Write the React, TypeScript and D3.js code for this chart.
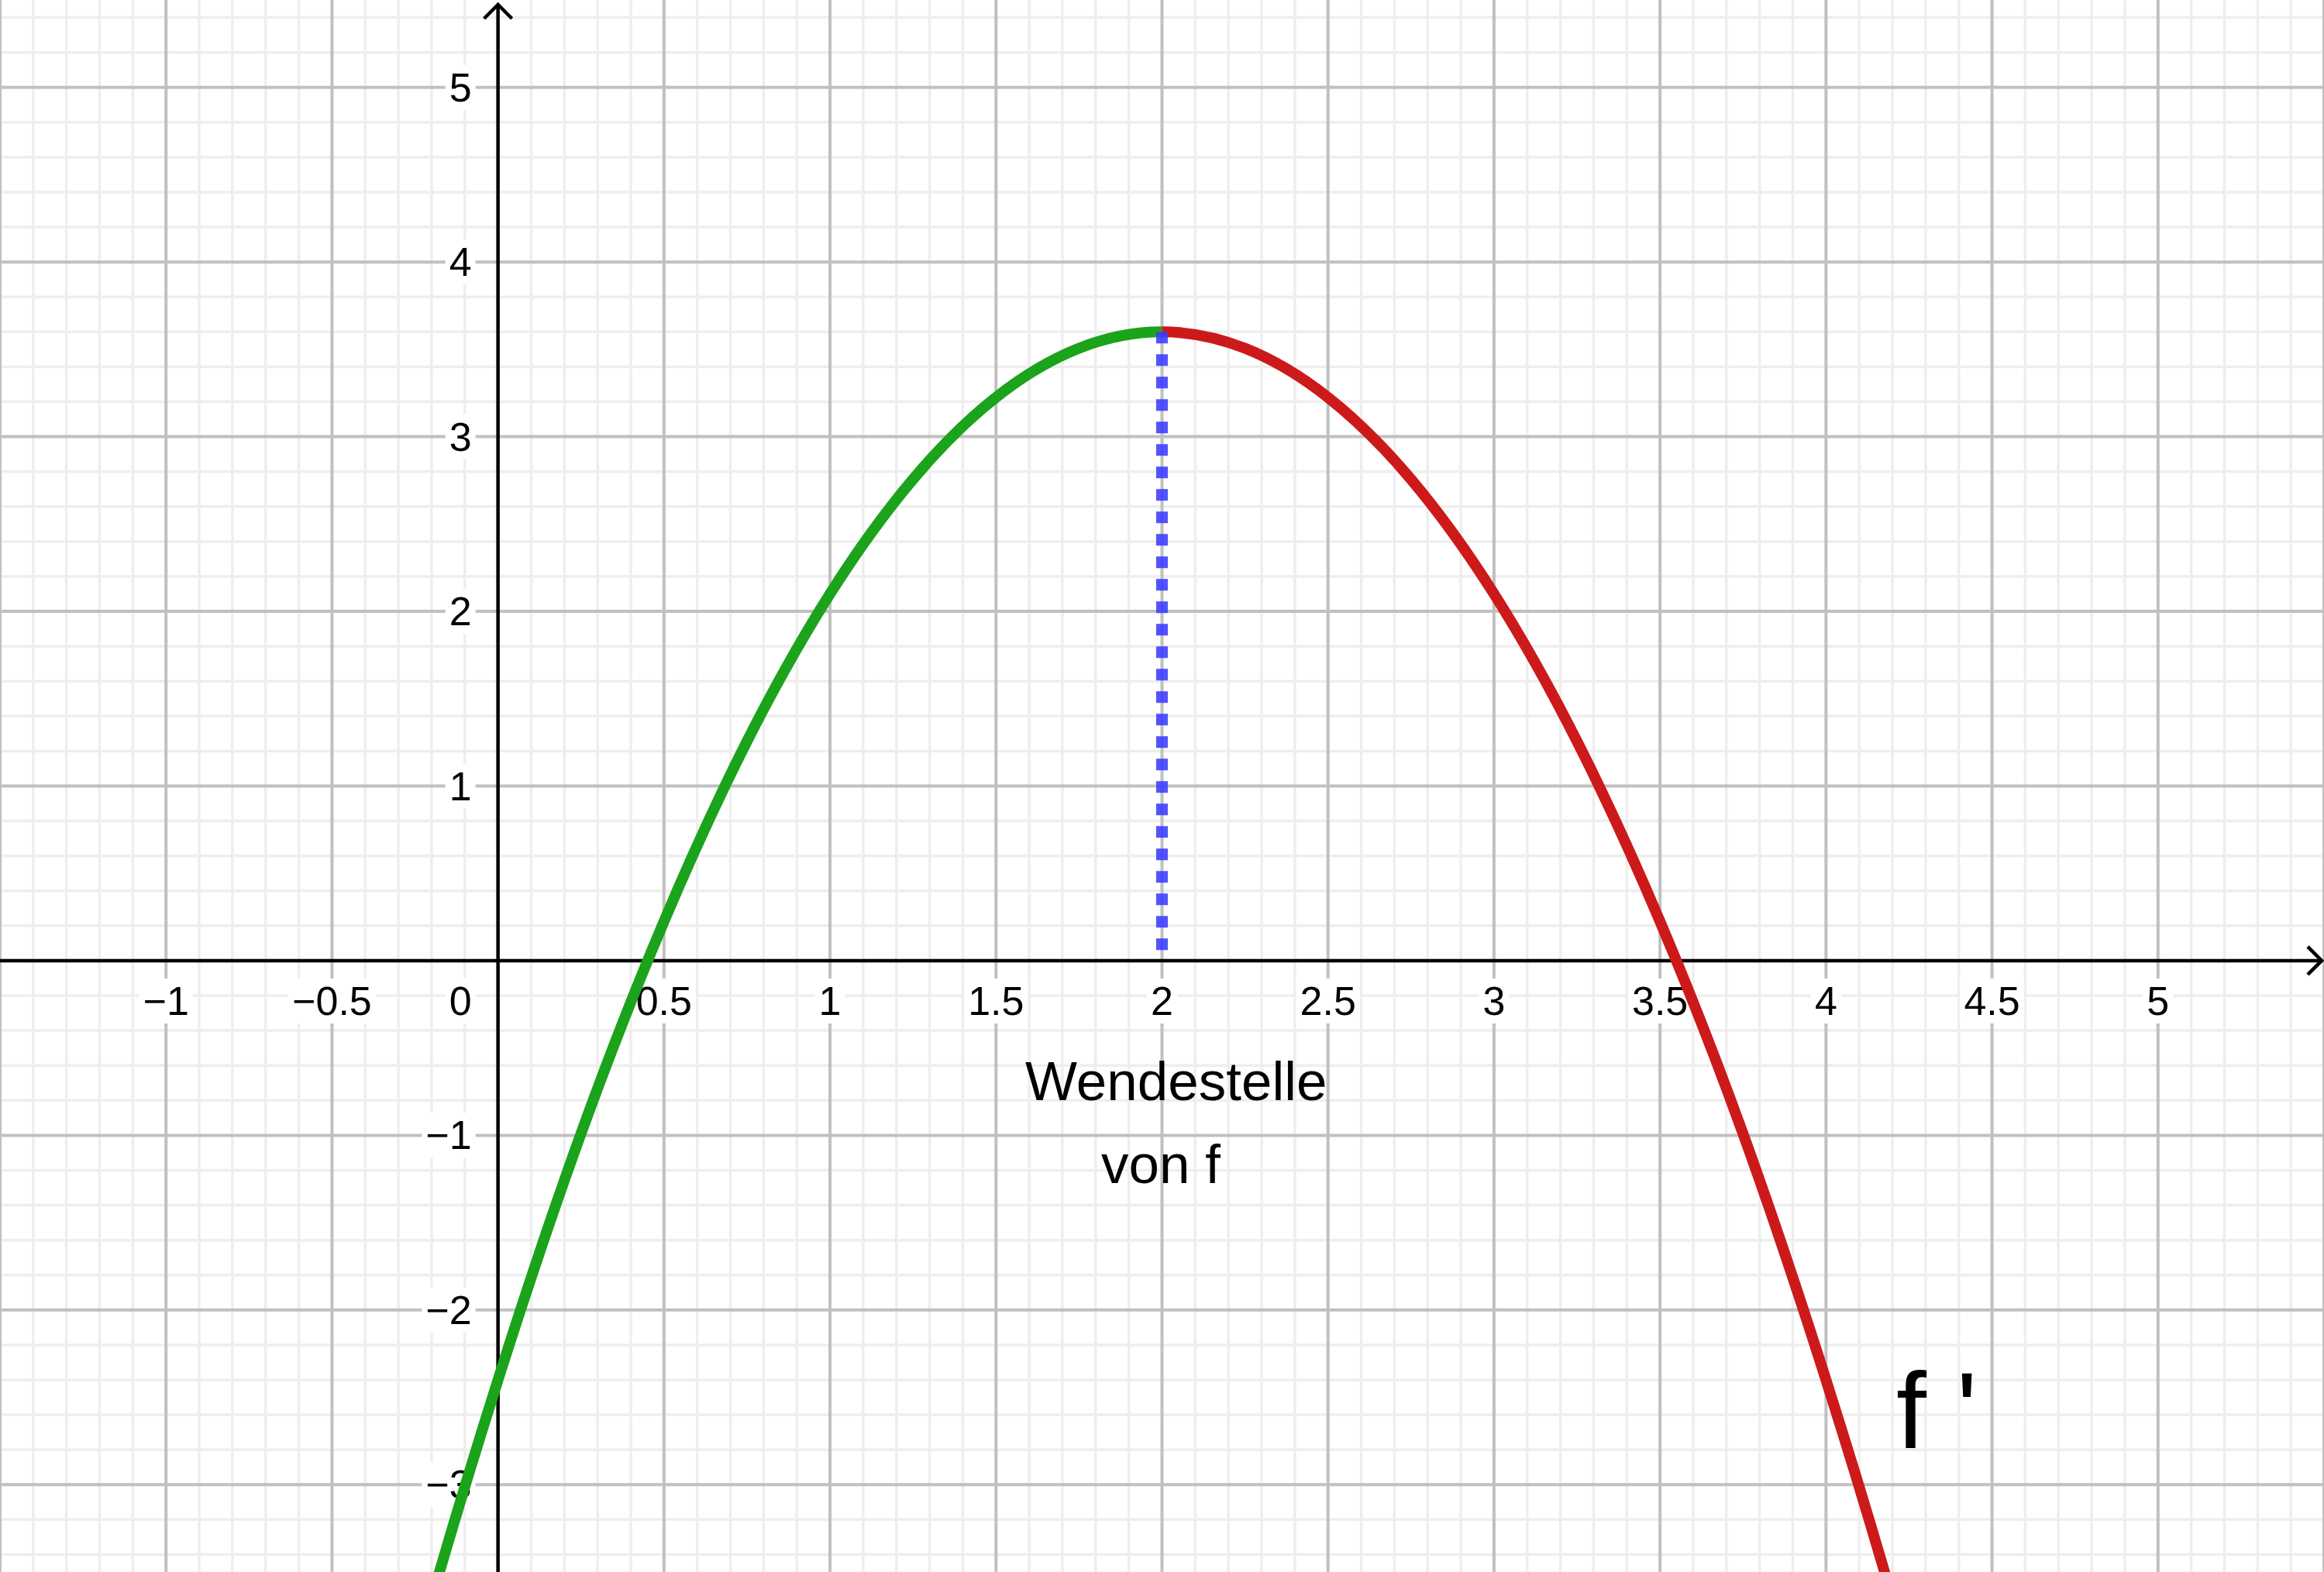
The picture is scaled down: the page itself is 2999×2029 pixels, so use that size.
import React, { useEffect, useRef } from "react";
import * as d3 from "d3";

const W = 2999;
const H = 2029;

// Values: f'(x)
const curveX = [-0.5, -0.25, 0, 0.25, 0.5, 0.75, 1, 1.25, 1.5, 1.75, 2, 2.25, 2.5, 2.75, 3, 3.25, 3.5, 3.75, 4, 4.25, 4.5];
const curveY = [-5.775, -3.99, -2.4, -0.99, 0.225, 1.256, 2.1, 2.756, 3.225, 3.506, 3.6, 3.506, 3.225, 2.756, 2.1, 1.256, 0.225, -0.99, -2.4, -3.99, -5.775];

const xTickValues = [-1, -0.5, 0.5, 1, 1.5, 2, 2.5, 3, 3.5, 4, 4.5, 5];
const xTickLabels = ["\u22121", "\u22120.5", "0.5", "1", "1.5", "2", "2.5", "3", "3.5", "4", "4.5", "5"];
const yTickValues = [5, 4, 3, 2, 1, -1, -2, -3];
const yTickLabels = ["5", "4", "3", "2", "1", "\u22121", "\u22122", "\u22123"];

const inflectionX = 2;
const inflectionY = 3.6;

const FONT = "'Liberation Sans', Arial, Helvetica, sans-serif";

export default function App() {
  const ref = useRef<SVGSVGElement | null>(null);

  useEffect(() => {
    const svg = d3.select(ref.current);
    svg.selectAll("*").remove();

    const x = d3.scaleLinear().domain([-1.5, 5.5]).range([0, W]);
    const y = d3.scaleLinear().domain([-3.5, 5.5]).range([H, 0]);

    svg.append("rect").attr("width", W).attr("height", H).attr("fill", "#ffffff");

    const defs = svg.append("defs");
    defs.append("clipPath").attr("id", "clipLeft").append("rect")
      .attr("x", 0).attr("y", 0).attr("width", x(inflectionX)).attr("height", H);
    defs.append("clipPath").attr("id", "clipRight").append("rect")
      .attr("x", x(inflectionX)).attr("y", 0).attr("width", W - x(inflectionX)).attr("height", H);

    // minor grid
    const minorX = d3.range(-15, 56).map((i) => i / 10).filter((v) => Math.round(v * 10) % 5 !== 0);
    const minorY = d3.range(-17, 28).map((i) => i / 5).filter((v) => Math.round(v * 5) % 5 !== 0);
    const grid = svg.append("g");
    grid.selectAll("line.mx").data(minorX).enter().append("line")
      .attr("x1", (d) => x(d)).attr("x2", (d) => x(d)).attr("y1", 0).attr("y2", H)
      .attr("stroke", "#eeeeee").attr("stroke-width", 3.5);
    grid.selectAll("line.my").data(minorY).enter().append("line")
      .attr("y1", (d) => y(d)).attr("y2", (d) => y(d)).attr("x1", 0).attr("x2", W)
      .attr("stroke", "#eeeeee").attr("stroke-width", 3.5);

    // major grid
    const majorX = d3.range(-3, 12).map((i) => i / 2).filter((v) => v !== 0);
    const majorY = d3.range(-3, 6).filter((v) => v !== 0);
    grid.selectAll("line.Mx").data(majorX).enter().append("line")
      .attr("x1", (d) => x(d)).attr("x2", (d) => x(d)).attr("y1", 0).attr("y2", H)
      .attr("stroke", "#c0c0c0").attr("stroke-width", 4);
    grid.selectAll("line.My").data(majorY).enter().append("line")
      .attr("y1", (d) => y(d)).attr("y2", (d) => y(d)).attr("x1", 0).attr("x2", W)
      .attr("stroke", "#c0c0c0").attr("stroke-width", 4);

    // axes
    const ax = svg.append("g").attr("stroke", "#000").attr("stroke-width", 4.5).attr("fill", "none");
    const x0 = x(0);
    const y0 = y(0);
    ax.append("line").attr("x1", 0).attr("x2", W - 3).attr("y1", y0).attr("y2", y0);
    ax.append("line").attr("x1", x0).attr("x2", x0).attr("y1", H).attr("y2", 6);
    ax.append("polyline")
      .attr("points", `${W - 21},${y0 - 18} ${W - 3},${y0} ${W - 21},${y0 + 18}`);
    ax.append("polyline")
      .attr("points", `${x0 - 18},${24} ${x0},${6} ${x0 + 18},${24}`);

    // tick labels with white background
    const labels = svg.append("g").attr("font-family", FONT).attr("font-size", 52).attr("fill", "#000");
    const addLabel = (tx: number, ty: number, text: string, anchor: string) => {
      const g = labels.append("g");
      const t = g.append("text").attr("x", tx).attr("y", ty).attr("text-anchor", anchor).text(text);
      const bb = (t.node() as SVGTextElement).getBBox();
      g.insert("rect", "text")
        .attr("x", bb.x - 5).attr("y", bb.y)
        .attr("width", bb.width + 10).attr("height", bb.height)
        .attr("fill", "#ffffff");
    };
    xTickValues.forEach((v, i) => addLabel(x(v), y0 + 70, xTickLabels[i], "middle"));
    yTickValues.forEach((v, i) => addLabel(x0 - 34, y(v) + 18, yTickLabels[i], "end"));
    addLabel(x0 - 34, y0 + 70, "0", "end");

    // curve: one smooth path, coloured by clipping at the inflection x
    const pts = curveX.map((cx, i) => [cx, curveY[i]] as [number, number]);
    const line = d3.line<[number, number]>()
      .x((d) => x(d[0])).y((d) => y(d[1]))
      .curve(d3.curveNatural);
    const d = line(pts) as string;
    svg.append("path").attr("d", d).attr("clip-path", "url(#clipLeft)")
      .attr("fill", "none").attr("stroke", "#1ba31b").attr("stroke-width", 14);
    svg.append("path").attr("d", d).attr("clip-path", "url(#clipRight)")
      .attr("fill", "none").attr("stroke", "#cc1a1a").attr("stroke-width", 14);

    // dotted vertical line at inflection point
    svg.append("line")
      .attr("x1", x(inflectionX)).attr("x2", x(inflectionX))
      .attr("y1", y(inflectionY)).attr("y2", y(0))
      .attr("stroke", "#3a3aff").attr("stroke-opacity", 0.88)
      .attr("stroke-width", 15).attr("stroke-dasharray", "15 14");

    // texts
    const txt = svg.append("g").attr("font-family", FONT).attr("fill", "#000");
    txt.append("text").attr("x", 1323).attr("y", 1420).attr("font-size", 71).text("Wendestelle");
    txt.append("text").attr("x", 1421).attr("y", 1527).attr("font-size", 71).text("von f");
    txt.append("text").attr("x", 2447).attr("y", 1869).attr("font-size", 140).text("f '");
  }, []);

  return (
    <svg
      ref={ref}
      width={W}
      height={H}
      style={{ position: "absolute", left: 0, top: 0, display: "block" }}
    />
  );
}
